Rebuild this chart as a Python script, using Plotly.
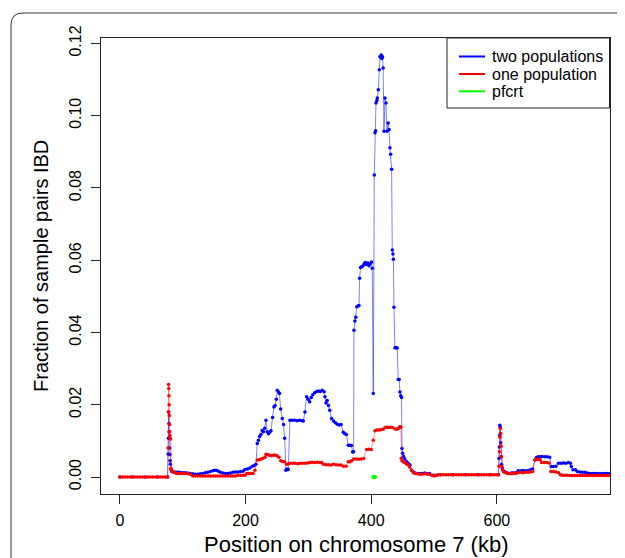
import plotly.graph_objects as go

# ---- data ----
blue_kb = [0, 20, 40, 60, 76,
           76.8, 77.3, 77.8, 78.1, 78.4, 78.8, 79.2, 79.6, 80, 80.5, 81.2, 82.5, 85, 88, 91, 94, 97, 100, 104, 108,
           112, 116, 120, 124, 128, 132, 136, 140, 144, 148, 151, 154, 157, 160, 164, 168, 172, 176, 180, 184, 188,
           192, 196, 199, 203, 207, 211, 214, 216.5, 218.7, 220.5, 222.5, 224.5, 226.5, 228.5, 230.5, 232.5, 234.5,
           236.5, 238.5, 240.5, 243, 245.2, 247, 249, 250.5, 252.5, 254, 255.8, 258.5, 260.5, 262.2, 264.3, 266, 268,
           270.7, 274, 278, 282, 286, 290, 292, 294.5, 297.2, 299.5, 302, 304.5, 307, 310, 313, 316, 319, 322, 325,
           326.4, 328, 330, 332, 334, 337, 340, 343, 346, 349, 352, 355.6, 358, 360.5, 363.5, 366, 368.5, 370.4, 372,
           372.5, 374, 375.5, 377, 379, 380.5, 381.5, 383, 385, 387, 389, 390.5, 392.5, 394.5, 396.5, 398.5, 400.5,
           401.7, 403.3, 404.9, 406, 407, 407.6, 409, 409.7, 411.3, 412.9, 414, 415, 416, 417, 418, 419, 420.3, 421.9,
           423.5, 425, 427.1, 428.5, 429.8, 430.9, 432.5, 433.5, 434.6, 435.3, 436.2, 437.8, 439.6, 441.4, 443, 444.5,
           445.7, 447, 448.3, 448.9, 449.9, 451.5, 453.5, 456.4, 459, 461.7, 464.3, 467, 469.6, 473, 477, 481, 485,
           489, 493, 497, 500, 504, 510, 530, 550, 570, 590, 602.5,
           603.3, 603.8, 604.3, 604.7, 605.2, 605.7, 606.2, 606.7, 607.5, 608.5, 610, 612, 614, 617, 620, 624, 628,
           631, 634, 638, 642, 646, 650, 654, 657, 660.5, 663, 666, 669, 672, 676, 680, 684, 686.5, 690, 694, 698,
           702, 706, 710, 714, 717, 718.5, 721, 725, 728, 732, 736, 740, 744, 748, 752, 756, 760, 764, 768, 772, 776,
           780, 784]
blue_frac = [0, 0, 0, 0, 0,
             0.0064, 0.0107, 0.018, 0.0148, 0.0125, 0.0107, 0.008, 0.0062, 0.0045, 0.0035, 0.0022, 0.0015, 0.0014,
             0.0013, 0.0013, 0.0013, 0.0012, 0.0012, 0.0012, 0.0011,
             0.001, 0.0009, 0.0008, 0.0008, 0.0009, 0.001, 0.0012, 0.0013, 0.0015, 0.0017, 0.0019, 0.0018, 0.0016,
             0.0013, 0.0011, 0.001, 0.001, 0.0011, 0.0013, 0.0014, 0.0014,
             0.0015, 0.0016, 0.0021, 0.0022, 0.0025, 0.003, 0.0032, 0.0035, 0.0093, 0.0102, 0.0112, 0.0118, 0.0129,
             0.0125, 0.0135, 0.0157, 0.0125,
             0.012, 0.0124, 0.0128, 0.0165, 0.0194, 0.0198, 0.0215, 0.024, 0.0235, 0.0231, 0.0188, 0.0162, 0.0145,
             0.0107, 0.0019, 0.0022, 0.0021,
             0.0157, 0.0157, 0.0157, 0.0156, 0.0157, 0.0156, 0.0155, 0.018, 0.0222, 0.0215, 0.0208, 0.022, 0.0228,
             0.0233, 0.0237, 0.0238, 0.0237, 0.024, 0.0236,
             0.0222, 0.0205, 0.0212, 0.0198, 0.0185, 0.0162, 0.0155, 0.015, 0.0146, 0.0144, 0.0145, 0.0124, 0.012,
             0.0118, 0.0088, 0.0088, 0.0087, 0.0069, 0.007,
             0.0406, 0.0432, 0.0442, 0.0471, 0.0473, 0.0475, 0.055, 0.058, 0.0582, 0.0585, 0.059, 0.0594, 0.0588,
             0.0592, 0.0585, 0.059, 0.0595,
             0.0578, 0.0231, 0.0836, 0.0953, 0.0958, 0.1035, 0.1042, 0.1049, 0.1072, 0.1127, 0.1164, 0.1162, 0.1168,
             0.1158, 0.1163, 0.1132, 0.0957, 0.1049,
             0.1035, 0.0957, 0.098, 0.0962, 0.0911, 0.0893, 0.0852, 0.0628, 0.0617, 0.0603, 0.047, 0.0358, 0.0358,
             0.0357, 0.027, 0.027,
             0.0235, 0.0225, 0.022, 0.0079, 0.0066, 0.0057, 0.005, 0.0042, 0.0038, 0.0033, 0.0019, 0.0014, 0.0011,
             0.001, 0.001, 0.001, 0.0011,
             0.001, 0.001, 0.0005, 0.0005, 0.0005, 0.0006, 0.0006, 0.0006, 0.0006, 0.0006, 0.0006,
             0.0051, 0.0083, 0.0115, 0.0143, 0.0138, 0.012, 0.0095, 0.0056, 0.0035, 0.0025, 0.0017, 0.0015, 0.0013,
             0.0011, 0.001, 0.0012, 0.0011,
             0.0012, 0.0017, 0.0017, 0.0018, 0.0017, 0.0018, 0.0021, 0.0022, 0.0047, 0.0054, 0.0056, 0.0056, 0.0057,
             0.0056, 0.0056, 0.0055, 0.0029, 0.0029, 0.003, 0.0038,
             0.0038, 0.0039, 0.0038, 0.004, 0.0038, 0.0029, 0.002, 0.002, 0.0015, 0.0014, 0.0013, 0.0013, 0.0011,
             0.001, 0.001, 0.001, 0.001, 0.0009, 0.001, 0.001, 0.001,
             0.001, 0.001]

red_kb = [0, 4, 8, 12, 16, 20, 24, 28, 32, 36, 40, 44, 48, 52, 56, 60, 64, 68, 72, 76,
          76.8, 77.2, 77.5, 77.8, 78.1, 78.4, 78.7, 79.0, 79.3, 79.7, 80.2, 80.8, 81.3, 82, 84, 86, 88, 91, 94, 97,
          100, 104, 108, 112,
          116, 120, 124, 128, 132, 136, 140, 144, 148, 152, 156, 160, 164, 168, 172, 176, 180, 184,
          188, 192, 196, 199, 202, 205, 208, 212, 215, 218.7, 222, 225, 228, 231, 232.5, 235, 238, 241, 244, 247,
          250, 253, 256, 259, 262, 265.4, 268, 271, 275, 279, 283, 287, 291, 295, 299, 302.5, 306, 310, 314, 318,
          321, 324, 328, 332, 336, 340, 344, 348, 352, 356, 360, 363.5, 366, 369, 372, 376, 380, 384, 388, 392.7,
          396, 400, 403.3, 406, 409, 412, 415, 419, 422, 425, 428, 431, 434, 437.8, 441, 443, 445.7, 447, 447.8,
          449, 451, 453, 456, 459, 461, 464, 467, 470, 473, 477, 481, 485, 489, 493, 497, 500, 503, 507,
          511, 515, 519, 523, 527, 531, 535, 539, 543, 547, 551, 555, 559, 563, 567, 571, 575, 579, 583, 587, 591,
          595, 599,
          602.5, 603.3, 604, 604.8, 605.5, 606.2, 606.8, 607.3, 608, 609, 610.5, 612, 614, 617, 620, 624, 627, 630,
          634, 638, 642, 646, 650, 654, 657, 660.5, 663, 666, 669, 671, 675, 679, 683, 686, 690, 694, 698, 701, 704,
          708, 712, 716, 720, 724, 728, 732, 736, 740, 744, 748, 752, 756, 760, 764, 768, 772, 776, 780, 784, 788]
red_frac = [0, 0, 0, 0, 0, 0, 0, 0, 0, 0, 0, 0, 0, 0, 0, 0, 0, 0, 0, 0,
            0.008, 0.018, 0.0256, 0.0245, 0.0225, 0.02, 0.017, 0.0145, 0.0125, 0.0115, 0.0107, 0.0105, 0.0024,
            0.0018, 0.0016, 0.0013, 0.0011, 0.001, 0.001, 0.001,
            0.001, 0.001, 0.0009, 0.0008,
            0.0003, 0.0003, 0.0003, 0.0003, 0.0003, 0.0003, 0.0003, 0.0003, 0.0003, 0.0003, 0.0003, 0.0003, 0.0003,
            0.0003, 0.0003, 0.0003, 0.0003, 0.0003,
            0.0005, 0.0005, 0.0005, 0.0005, 0.001, 0.001, 0.001, 0.001, 0.0019, 0.0047, 0.0048, 0.005, 0.0052,
            0.0055, 0.0063, 0.0062, 0.006, 0.0059, 0.006, 0.0061,
            0.0059, 0.0055, 0.0045, 0.0043, 0.0042, 0.0035, 0.0036, 0.0038, 0.0038, 0.0038, 0.0037, 0.0038, 0.0038,
            0.0038, 0.0039, 0.004, 0.0041, 0.004, 0.0041, 0.004,
            0.004, 0.0035, 0.0034, 0.0034, 0.0033, 0.0035, 0.0034, 0.0033, 0.0033, 0.003, 0.003, 0.0042, 0.0042,
            0.0045, 0.005, 0.005, 0.0049, 0.005, 0.0051, 0.0076,
            0.0077, 0.0076, 0.0102, 0.0128, 0.013, 0.013, 0.0131, 0.0132, 0.0137, 0.0138, 0.0137, 0.0138, 0.0137,
            0.0133, 0.0132, 0.0134, 0.014, 0.0138, 0.0052,
            0.0045, 0.0042, 0.004, 0.0036, 0.0033, 0.0028, 0.0019, 0.0012, 0.001, 0.0009, 0.0008, 0.0008, 0.0009,
            0.0008, 0.0008, 0.0004, 0.0003, 0.0004, 0.0006,
            0.0006, 0.0006, 0.0006, 0.0006, 0.0006, 0.0006, 0.0006, 0.0006, 0.0006, 0.0006, 0.0006, 0.0006, 0.0006,
            0.0006, 0.0006, 0.0006, 0.0006, 0.0006, 0.0006, 0.0006, 0.0006,
            0.0006, 0.0006,
            0.0006, 0.003, 0.007, 0.011, 0.0134, 0.012, 0.0085, 0.0056, 0.0029, 0.002, 0.0015, 0.0013, 0.0012,
            0.001, 0.001, 0.0009, 0.0011, 0.001,
            0.0012, 0.0013, 0.0012, 0.0013, 0.0013, 0.0014, 0.0015, 0.0047, 0.0049, 0.0049, 0.0048, 0.004, 0.004,
            0.004, 0.0039, 0.0015, 0.0015, 0.0014, 0.0012, 0.0006, 0.0005,
            0.0005, 0.0005, 0.0004, 0.0004, 0.0004, 0.0004, 0.0004, 0.0004, 0.0004, 0.0004, 0.0004, 0.0004, 0.0004,
            0.0004, 0.0004, 0.0004, 0.0004, 0.0004, 0.0004, 0.0004, 0.0004]

pfcrt_kb = [403.2, 406.3]
pfcrt_frac = [0, 0]

series_names = ["two populations", "one population", "pfcrt"]
series_colors = ["#0000FF", "#FF0000", "#00FF00"]
x_ticks = [0, 200, 400, 600]
x_ticktext = ["0", "200", "400", "600"]
y_ticks = [0, 0.02, 0.04, 0.06, 0.08, 0.10, 0.12]
y_ticktext = ["0.00", "0.02", "0.04", "0.06", "0.08", "0.10", "0.12"]
x_title = "Position on chromosome 7 (kb)"
y_title = "Fraction of sample pairs IBD"

FONT = "Liberation Sans, Arial, Helvetica, sans-serif"
# the page adds an 8px body margin, so the figure is drawn 8px smaller and
# all page-pixel positions below are expressed in page coordinates.
OFF = 8
W, H = 625 - OFF, 558 - OFF
ML, MR, MT, MB = 101 - OFF, 15, 38 - OFF, 64
PW, PH = W - ML - MR, H - MT - MB


def px(xp):
    return (xp - OFF - ML) / PW


def py(yp):
    return (H - MB - (yp - OFF)) / PH


fig = go.Figure()

fig.add_trace(go.Scatter(x=blue_kb, y=blue_frac, mode="lines+markers", showlegend=False,
                         line=dict(color="rgba(0,0,255,0.5)", width=1),
                         marker=dict(color="#0000FF", size=3.5, line=dict(width=0))))
fig.add_trace(go.Scatter(x=red_kb, y=red_frac, mode="lines+markers", showlegend=False,
                         line=dict(color="rgba(255,0,0,0.4)", width=1),
                         marker=dict(color="#FF0000", size=3.5, line=dict(width=0))))
fig.add_trace(go.Scatter(x=pfcrt_kb, y=pfcrt_frac, mode="lines+markers", showlegend=False,
                         line=dict(color="#00FF00", width=4),
                         marker=dict(color="#00FF00", size=4, line=dict(width=0))))

# legend drawn R-style (box, short line keys, text)
leg_left, leg_right, leg_top, leg_bottom = 447, 609.5, 38, 108
key_x0, key_x1, text_x = 459, 485, 490
row_y = [56.5, 74, 91.3]

shapes = [
    dict(type="path", xref="paper", yref="paper",
         path=f"M {px(11)},{py(575)} L {px(11)},{py(25)} Q {px(11)},{py(13)} {px(23)},{py(13)} L {px(640)},{py(13)}",
         line=dict(color="#333", width=1)),
    dict(type="rect", xref="paper", yref="paper", x0=px(leg_left), x1=px(leg_right),
         y0=py(leg_bottom), y1=py(leg_top), line=dict(color="#222", width=1), fillcolor="white", layer="above"),
]
annotations = [
    dict(text=x_title, xref="paper", yref="paper", x=0.5, y=0, xanchor="center", yanchor="middle",
         yshift=-50, showarrow=False, font=dict(size=22, family=FONT)),
    dict(text=y_title, xref="paper", yref="paper", x=0, y=0.5, xanchor="center", yanchor="middle",
         xshift=-60, textangle=-90, showarrow=False, font=dict(size=20, family=FONT)),
]
for name, col, yy in zip(series_names, series_colors, row_y):
    shapes.append(dict(type="line", xref="paper", yref="paper", x0=px(key_x0), x1=px(key_x1),
                       y0=py(yy), y1=py(yy), line=dict(color=col, width=2), layer="above"))
    annotations.append(dict(text=name, xref="paper", yref="paper", x=px(text_x), y=py(yy),
                            xanchor="left", yanchor="middle", showarrow=False,
                            font=dict(size=16, family=FONT)))

fig.update_layout(
    width=W, height=H,
    margin=dict(l=ML, r=MR, t=MT, b=MB, autoexpand=False),
    paper_bgcolor="white", plot_bgcolor="white",
    font=dict(family=FONT, size=16, color="black"),
    showlegend=False,
    xaxis=dict(range=[-30, 780], showgrid=False, zeroline=False, showline=True, mirror=True,
               linecolor="#222", linewidth=1, ticks="outside", ticklen=9, tickcolor="#222",
               tickvals=x_ticks, ticktext=x_ticktext, ticklabelstandoff=3,
               tickfont=dict(size=16, family=FONT)),
    yaxis=dict(range=[-0.0047, 0.1215], showgrid=False, zeroline=False, showline=True, mirror=True,
               linecolor="#222", linewidth=1, ticks="outside", ticklen=9, tickcolor="#222",
               tickvals=y_ticks, ticktext=y_ticktext, tickangle=-90, ticklabelstandoff=4,
               tickfont=dict(size=16, family=FONT)),
    annotations=annotations,
    shapes=shapes,
)

fig.write_html("out.html")
